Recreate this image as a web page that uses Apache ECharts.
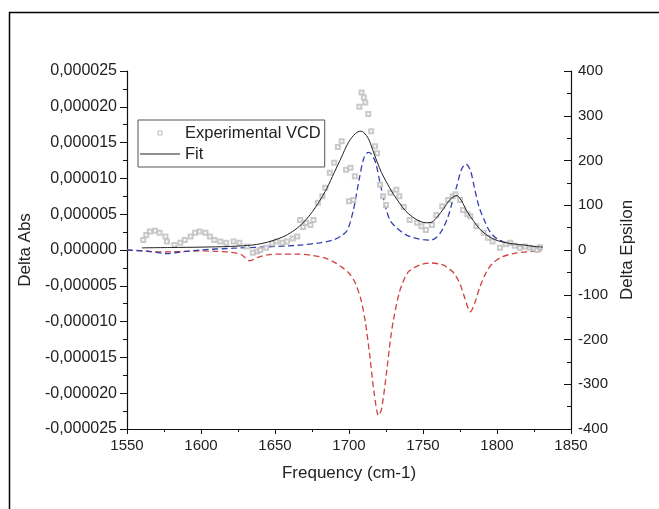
<!DOCTYPE html>
<html>
<head>
<meta charset="utf-8">
<script src="https://cdn.jsdelivr.net/npm/echarts@6/dist/echarts.min.js"></script>
<style>
html,body{margin:0;padding:0;background:#fff;}
#chart{width:659px;height:509px;}
</style>
</head>
<body>
<div id="chart"></div>
<script>
// ---------- data ----------
var xTicks = [1550, 1600, 1650, 1700, 1750, 1800, 1850];

// Experimental VCD (frequency, Delta Abs)
var expFreq = [1561,1563,1565.5,1569,1572,1576,1577,1582,1586,1589,1593,1596,1599,1603,1606,1609,1613,1617,1622,1626,1631,1635,1638,1640,1644,1648,1651,1655,1658,1662,1665,1667,1669,1671,1674,1676,1679,1682,1684,1687,1690,1692.5,1695,1698,1700,1701,1703,1704,1707,1708.5,1710,1711,1713,1715,1717.6,1719,1721,1723,1725,1728,1732,1734,1737,1741,1746,1749,1752,1756,1759,1763,1767,1770,1772,1775,1777,1780,1782,1786,1791,1794,1797,1802,1806,1809,1812,1815.5,1819,1822,1825,1827,1829];
var expAbs = [1.4e-6,2.1e-6,2.6e-6,2.7e-6,2.4e-6,1.9e-6,1.2e-6,0.7e-6,1.0e-6,1.4e-6,1.9e-6,2.4e-6,2.6e-6,2.4e-6,1.9e-6,1.4e-6,1.2e-6,1.0e-6,1.2e-6,1.0e-6,0.5e-6,-0.4e-6,-0.2e-6,0.0,0.3e-6,0.9e-6,1.2e-6,1.0e-6,1.2e-6,1.6e-6,1.9e-6,4.2e-6,3.2e-6,3.8e-6,3.5e-6,4.2e-6,6.6e-6,7.5e-6,8.7e-6,10.8e-6,12.2e-6,14.4e-6,15.2e-6,11.2e-6,6.8e-6,11.5e-6,7.0e-6,10.3e-6,20.0e-6,22.0e-6,21.3e-6,20.6e-6,19.0e-6,16.6e-6,14.5e-6,13.5e-6,9.1e-6,7.5e-6,6.3e-6,8.0e-6,8.4e-6,7.5e-6,6.0e-6,4.2e-6,3.8e-6,3.3e-6,2.8e-6,3.5e-6,4.9e-6,6.1e-6,7.0e-6,7.5e-6,7.8e-6,7.0e-6,5.6e-6,5.0e-6,4.7e-6,3.3e-6,2.4e-6,1.7e-6,1.2e-6,0.3e-6,0.8e-6,1.0e-6,0.6e-6,0.3e-6,0.5e-6,0.3e-6,0.2e-6,0.0,0.4e-6];

// Fit (frequency, Delta Abs)
var fitFreq = [1560,1580,1600,1620,1635,1645,1655,1662,1668,1674,1680,1685,1690,1695,1699,1703,1706,1708,1710,1713,1716,1719,1722,1725,1730,1734,1738,1743,1748,1752,1756,1760,1764,1768,1771,1773,1775,1777,1780,1784,1788,1793,1798,1804,1811,1818,1825,1831];
var fitAbs = [0.3e-6,0.35e-6,0.4e-6,0.5e-6,0.7e-6,1.1e-6,1.8e-6,2.6e-6,3.6e-6,5.0e-6,6.8e-6,8.6e-6,10.8e-6,13.0e-6,14.8e-6,16.0e-6,16.5e-6,16.6e-6,16.4e-6,15.6e-6,14.0e-6,12.3e-6,10.8e-6,9.6e-6,7.8e-6,6.6e-6,5.5e-6,4.6e-6,4.0e-6,3.8e-6,3.9e-6,4.7e-6,5.8e-6,7.0e-6,7.5e-6,7.6e-6,7.2e-6,6.5e-6,5.3e-6,4.1e-6,3.0e-6,2.1e-6,1.5e-6,1.1e-6,0.85e-6,0.7e-6,0.5e-6,0.4e-6];

// Blue dashed (frequency, Delta Epsilon)
var blueFreq = [1550,1565,1577,1585,1599,1622,1644,1667,1680,1689,1695,1699,1703,1707,1710,1713,1715,1718,1721,1725,1728,1732,1738,1743,1750,1755,1759,1763,1767,1770,1773,1776,1779,1782,1785,1788,1791,1795,1800,1807,1815,1822,1830];
var blueEps = [0,-3,-8,-5,0,4,7,11,16,22,32,45,90,160,205,218,215,195,150,92,65,50,35,28,23,22,28,45,75,110,145,180,192,178,135,95,70,42,25,15,8,5,3];

// Red dashed (frequency, Delta Epsilon)
var redFreq = [1550,1560,1570,1580,1590,1600,1610,1620,1627,1633,1638,1645,1655,1665,1675,1683,1690,1695,1700,1704,1708,1711,1714,1717,1720,1722,1725.5,1728,1730,1734,1738,1741,1748,1755,1762,1766,1771,1775,1778,1782,1785,1788.5,1793,1797,1803,1811,1820,1830];
var redEps = [0,-2,-4,-4,-3,-2,-3,-5,-10,-24,-17,-11,-9,-9,-12,-17,-27,-38,-52,-72,-110,-160,-235,-320,-370,-355,-270,-200,-157,-95,-60,-46,-33,-29,-32,-38,-52,-76,-105,-138,-118,-82,-48,-30,-16,-8,-4,-2];

// ---------- chart ----------
function zip(a, b) { return a.map(function (v, i) { return [v, b[i]]; }); }
var FONT = 'Liberation Sans, Arial, sans-serif';
var chart = echarts.init(document.getElementById('chart'), null, {renderer: 'canvas'});

var option = {
  backgroundColor: '#ffffff',
  animation: false,
  textStyle: {fontFamily: FONT},
  grid: {left: 127, right: 88, top: 71, bottom: 80, containLabel: false},
  legend: {
    orient: 'vertical',
    left: 138, top: 120,
    padding: [4, 4, 4, 2],
    itemGap: 3,
    itemWidth: 40,
    itemHeight: 4,
    symbolKeepAspect: true,
    borderColor: '#555',
    borderWidth: 1,
    textStyle: {fontFamily: FONT, fontSize: 16.5, color: '#222', lineHeight: 18},
    data: [
      {name: 'Experimental VCD', icon: 'path://M0,0H1V1H0Z',
       itemStyle: {color: '#fff', borderColor: '#aaa', borderWidth: 1}},
      {name: 'Fit', icon: 'path://M0,0H40V1H0Z',
       itemStyle: {color: '#222', borderWidth: 0}}
    ]
  },
  xAxis: {
    type: 'value',
    min: 1550, max: 1850, interval: 50,
    name: 'Frequency (cm-1)',
    nameLocation: 'middle',
    nameGap: 36,
    nameTextStyle: {fontFamily: FONT, fontSize: 17, color: '#222'},
    axisLine: {show: true, onZero: false, lineStyle: {color: '#111', width: 1.2}},
    axisTick: {show: true, inside: false, length: 5, lineStyle: {color: '#111'}},
    minorTick: {show: true, splitNumber: 2, length: 3, lineStyle: {color: '#111'}},
    axisLabel: {
      fontFamily: FONT, fontSize: 15, color: '#222', margin: 9,
      formatter: function (v) { return String(Math.round(v)); }
    },
    splitLine: {show: false}
  },
  yAxis: [
    {
      type: 'value',
      position: 'left',
      min: -0.000025, max: 0.000025, interval: 0.000005,
      name: 'Delta Abs',
      nameLocation: 'middle',
      nameGap: 92,
      nameRotate: 90,
      nameTextStyle: {fontFamily: FONT, fontSize: 17, color: '#222'},
      axisLine: {show: true, onZero: false, lineStyle: {color: '#111', width: 1.2}},
      axisTick: {show: true, inside: false, length: 7, lineStyle: {color: '#111'}},
      minorTick: {show: true, splitNumber: 2, length: 4, lineStyle: {color: '#111'}},
      axisLabel: {
        fontFamily: FONT, fontSize: 16, color: '#222', margin: 10,
        formatter: function (v) {
          if (Math.abs(v) < 1e-12) v = 0;
          return v.toFixed(6).replace('.', ',');
        }
      },
      splitLine: {show: false}
    },
    {
      type: 'value',
      position: 'right',
      min: -400, max: 400, interval: 100,
      name: 'Delta Epsilon',
      nameLocation: 'middle',
      nameGap: 47,
      nameRotate: 90,
      nameTextStyle: {fontFamily: FONT, fontSize: 17, color: '#222'},
      axisLine: {show: true, onZero: false, lineStyle: {color: '#111', width: 1.2}},
      axisTick: {show: true, inside: true, length: 7, lineStyle: {color: '#111'}},
      minorTick: {show: true, splitNumber: 2, length: 4, lineStyle: {color: '#111'}},
      axisLabel: {fontFamily: FONT, fontSize: 15, color: '#222', margin: 7},
      splitLine: {show: false}
    }
  ],
  graphic: [
    {
      type: 'polyline',
      shape: {points: [[9.5, 509], [9.5, 12.5], [659, 12.5]]},
      style: {stroke: '#000', lineWidth: 1.5, fill: null},
      silent: true
    }
  ],
  series: [
    {
      name: 'Red',
      type: 'line',
      yAxisIndex: 1,
      data: zip(redFreq, redEps),
      showSymbol: false,
      symbol: 'none',
      smooth: 0.3,
      lineStyle: {color: '#d0413f', width: 1.3, type: [6, 3.5]},
      z: 2
    },
    {
      name: 'Blue',
      type: 'line',
      yAxisIndex: 1,
      data: zip(blueFreq, blueEps),
      showSymbol: false,
      symbol: 'none',
      smooth: 0.3,
      lineStyle: {color: '#3540b0', width: 1.3, type: [6, 3.5]},
      z: 3
    },
    {
      name: 'Experimental VCD',
      type: 'scatter',
      yAxisIndex: 0,
      data: zip(expFreq, expAbs),
      symbol: 'emptyRect',
      symbolSize: 4,
      itemStyle: {color: '#bdbdbd', borderWidth: 0.7},
      z: 4
    },
    {
      name: 'Fit',
      type: 'line',
      yAxisIndex: 0,
      data: zip(fitFreq, fitAbs),
      showSymbol: false,
      symbol: 'none',
      smooth: 0.3,
      lineStyle: {color: '#222', width: 1},
      itemStyle: {color: '#222'},
      z: 5
    }
  ]
};
chart.setOption(option);
</script>
</body>
</html>
